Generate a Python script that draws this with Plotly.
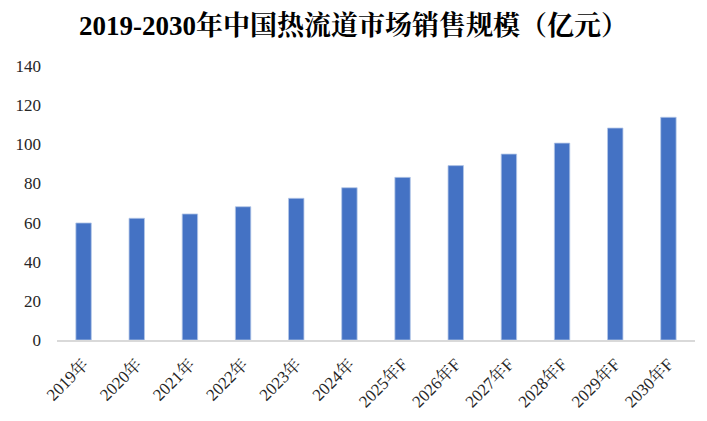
import plotly.graph_objects as go

categories = ["2019年", "2020年", "2021年", "2022年", "2023年", "2024年",
              "2025年F", "2026年F", "2027年F", "2028年F", "2029年F", "2030年F"]
values = [59.8, 62.2, 64.4, 68.1, 72.4, 77.8, 83.1, 89.1, 95.0, 100.6, 108.3, 113.8]
y_ticks = [0, 20, 40, 60, 80, 100, 120, 140]
title_text = "2019-2030年中国热流道市场销售规模（亿元）"

serif = "Liberation Serif, 'Times New Roman', 'Noto Serif CJK SC', 'Noto Sans CJK SC', serif"

fig = go.Figure(go.Bar(
    x=categories, y=values,
    marker=dict(color="#4472C4", line=dict(color="#B4C7E7", width=0.8)),
    width=0.29,
))

fig.update_layout(
    width=707, height=421,
    margin=dict(l=57, r=12, t=66, b=81),
    paper_bgcolor="white", plot_bgcolor="white",
    title=dict(text="<b>" + title_text + "</b>", x=0.5, xanchor="center",
               y=1 - 26 / 421, yanchor="middle",
               font=dict(family=serif, size=27, color="#000000")),
    showlegend=False,
    xaxis=dict(
        tickangle=-45, showgrid=False, showline=True, linecolor="#D9D9D9", linewidth=1.5,
        ticks="", automargin=False, ticklabelstandoff=6,
        tickfont=dict(family=serif, size=17, color="#262626"),
    ),
    yaxis=dict(
        range=[0, 140], tickvals=y_ticks, showgrid=False, zeroline=False, showline=False,
        ticks="", ticklabelstandoff=15, automargin=False,
        tickfont=dict(family=serif, size=17, color="#262626"),
    ),
)

fig.write_html("out.html", config={"displayModeBar": False},
               post_script="document.body.style.margin='0';")
